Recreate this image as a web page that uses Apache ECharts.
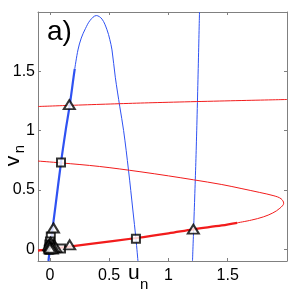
<!DOCTYPE html>
<html>
<head>
<meta charset="utf-8">
<script src="https://cdn.jsdelivr.net/npm/echarts@6/dist/echarts.min.js"></script>
<style>
html,body{margin:0;padding:0;background:#fff;}
#chart{width:289px;height:294px;}
</style>
</head>
<body>
<div id="chart"></div>
<script>
// Axis ticks
var xTicks = [0, 0.5, 1, 1.5];
var yTicks = [0, 0.5, 1, 1.5];

// Blue nullcline (u, v), thick part
var blueThick = [[-0.012,-0.1],[0,0],[0.047,0.36],[0.094,0.73],[0.133,1.0],[0.167,1.21],[0.2,1.45],[0.21,1.52]];
// Blue nullcline, thin continuation over the hump
var blueThin = [[0.21,1.52],[0.237,1.68],[0.265,1.78],[0.3,1.86],[0.34,1.93],[0.392,1.97],[0.44,1.94],[0.482,1.85],[0.505,1.77],[0.524,1.68],[0.552,1.45],[0.59,1.2],[0.622,1.0],[0.664,0.66],[0.70,0.33],[0.726,0.087],[0.743,-0.1]];
// Blue near-vertical branch
var blueRight = [[1.203,-0.1],[1.234,0.83],[1.262,2.0]];

// Red nullcline, thick part
var redThick = [[-0.1,-0.012],[0,0],[0.36,0.047],[0.73,0.094],[1.0,0.133],[1.21,0.167],[1.45,0.2],[1.58,0.222]];
// Red nullcline, thin continuation around the turn
var redThin = [[1.58,0.222],[1.70,0.245],[1.80,0.272],[1.88,0.305],[1.94,0.345],[1.972,0.387],[1.95,0.425],[1.89,0.45],[1.77,0.478],[1.62,0.51],[1.45,0.545],[1.21,0.585],[1.0,0.618],[0.76,0.653],[0.42,0.697],[0.087,0.728],[-0.1,0.743]];
// Red near-horizontal branch
var redTop = [[-0.1,1.203],[0.83,1.234],[2.0,1.262]];

// Iterates
var triangles = [[1.21,0.16],[0.164,1.21],[0.03,0.17],[0.167,0.028],[0.006,0.05],[0.05,0.006],[0.002,0.03],[0.03,0.002],[-0.01,0.02],[0.0,0.012],[0.012,0.0],[0.02,-0.008],[0,0]];
var squares = [[0.726,0.087],[0.094,0.73],[0.008,0.107],[0.094,0.005],[0.001,0.065],[0.02,0.004],[-0.004,0.04],[0.0,0.02],[0.008,0.0],[-0.006,0.005],[0.01,0.03],[-0.01,-0.005],[0,0]];

var chart = echarts.init(document.getElementById('chart'), null, {renderer:'canvas'});
var FONT = 'Liberation Sans, Arial, Helvetica, sans-serif';
var BLUE = '#2f52f2';
var RED = '#f21c1c';
var GRAY = '#808080';

function axisCommon(pos, showLabel, ticks) {
  return {
    type: 'value', min: -0.1, max: 2, position: pos,
    axisLine: {show: true, onZero: false, lineStyle: {color: GRAY, width: 1}},
    axisTick: {show: true, inside: true, length: 3, customValues: ticks, lineStyle: {color: GRAY}},
    axisLabel: {show: showLabel, customValues: ticks, color: '#000', fontSize: 16, fontFamily: FONT, margin: pos === 'bottom' ? 7 : 3,
      formatter: function (v) { return String(v); }},
    splitLine: {show: false}
  };
}

function lineSeries(data, color, width, z) {
  return {type: 'line', data: data, xAxisIndex: 0, yAxisIndex: 0, showSymbol: false, symbol: 'none',
    smooth: 0.35, lineStyle: {color: color, width: width}, silent: true, animation: false, z: z || 2, clip: true};
}

var option = {
  animation: false,
  grid: {left: 38, top: 12, width: 249, height: 249, containLabel: false},
  xAxis: [axisCommon('bottom', true, xTicks), axisCommon('top', false, xTicks)],
  yAxis: [axisCommon('left', true, yTicks), axisCommon('right', false, yTicks)],
  series: [
    lineSeries(blueThin, BLUE, 1),
    lineSeries(blueRight, BLUE, 1),
    lineSeries(redThin, RED, 1),
    lineSeries(redTop, RED, 1),
    lineSeries(blueThick, BLUE, 2.2, 3),
    lineSeries(redThick, RED, 2.2, 3),
    {type: 'scatter', data: squares, symbol: 'rect', symbolSize: 8,
      itemStyle: {color: '#fff', borderColor: '#000', borderWidth: 2}, z: 5, silent: true},
    {type: 'scatter', data: triangles, symbol: 'triangle', symbolSize: [11, 9], symbolOffset: [0, -1],
      itemStyle: {color: '#fff', borderColor: '#000', borderWidth: 2}, z: 6, silent: true}
  ],
  graphic: [
    {type: 'text', x: 47, y: 32, style: {text: 'a)', font: '28px ' + FONT, fill: '#000', verticalAlign: 'middle', align: 'left'}, z: 10},
    {type: 'text', x: 128, y: 273, style: {text: 'u', font: '21px ' + FONT, fill: '#000', verticalAlign: 'middle', align: 'left'}, z: 10},
    {type: 'text', x: 140, y: 285, style: {text: 'n', font: '15px ' + FONT, fill: '#000', verticalAlign: 'middle', align: 'left'}, z: 10},
    {type: 'text', x: 13, y: 161, rotation: Math.PI / 2, style: {text: 'v', font: '21px ' + FONT, fill: '#000', verticalAlign: 'middle', align: 'center'}, z: 10},
    {type: 'text', x: 20, y: 149, rotation: Math.PI / 2, style: {text: 'n', font: '15px ' + FONT, fill: '#000', verticalAlign: 'middle', align: 'center'}, z: 10}
  ]
};
chart.setOption(option);
</script>
</body>
</html>
